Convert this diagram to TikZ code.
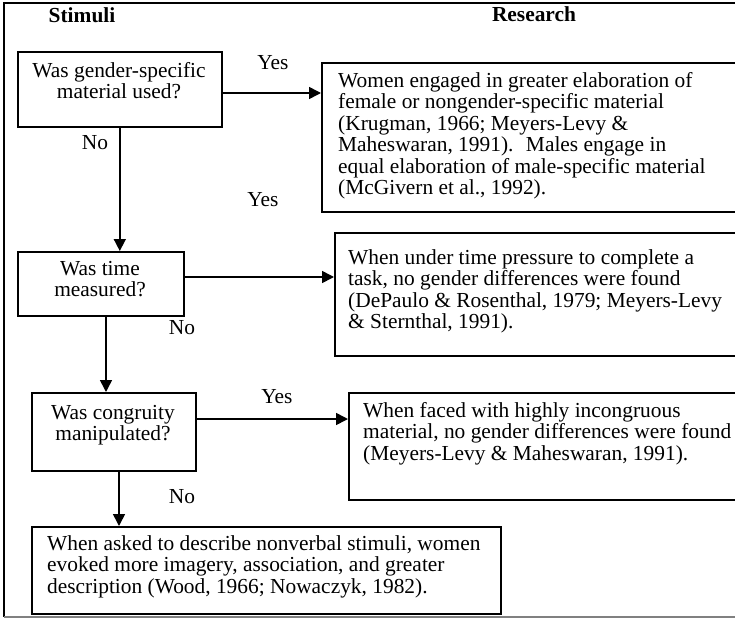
\documentclass[tikz,border=0pt]{standalone}
\usepackage{fontspec}
\setmainfont{Liberation Serif}
\usetikzlibrary{arrows.meta,calc}
\begin{document}
\begin{tikzpicture}[x=1pt,y=-1pt,
  box/.style={draw=black, line width=1.6pt, rectangle, inner sep=0pt, anchor=north west},
  txt/.style={font=\fontsize{21.4}{21.5}\selectfont, inner sep=0pt},
  hdr/.style={font=\fontsize{21.4}{21.5}\selectfont\bfseries, inner sep=0pt},
  lbl/.style={font=\fontsize{21.4}{21.5}\selectfont, inner sep=0pt},
  arr/.style={line width=1.6pt, -{Triangle[length=12pt,width=12pt]}},
  ln/.style={line width=1.6pt}]
\path[use as bounding box] (0,0) rectangle (735,618);
\clip (0,0) rectangle (735,618);
% frame
\coordinate (ftl) at (4,3);
\coordinate (ftr) at (740,3);
\coordinate (fbl) at (4,617);
\coordinate (fbr) at (740,617);
\draw[ln] (ftr) -- (ftl) -- (fbl);
\draw[line width=1.2pt, gray] (fbl) -- (fbr);
% headers
\node[hdr, anchor=base] (hs) at (82,23) {Stimuli};
\node[hdr, anchor=base] (hr) at (534,22) {Research};
% boxes
\node[box, minimum width=204pt, minimum height=75pt] (q1) at (17,51) {};
\node[box, minimum width=423pt, minimum height=149pt] (r1) at (321,62) {};
\node[box, minimum width=166pt, minimum height=64pt] (q2) at (17,251) {};
\node[box, minimum width=411pt, minimum height=123pt] (r2) at (334,232) {};
\node[box, minimum width=164pt, minimum height=78pt] (q3) at (31,392) {};
\node[box, minimum width=397pt, minimum height=107pt] (r3) at (348,392) {};
\node[box, minimum width=469pt, minimum height=87pt] (f) at (31,526) {};
% texts
\node[txt, align=center, anchor=north] (q1t) at (119,62) {Was gender-specific\\material used?};
\node[txt, align=left, anchor=north west] (r1t) at (338,72) {Women engaged in greater elaboration of\\female or nongender-specific material\\(Krugman, 1966; Meyers-Levy \&\\Maheswaran, 1991).~ Males engage in\\equal elaboration of male-specific material\\(McGivern et al., 1992).};
\node[txt, align=center, anchor=north] (q2t) at (100,261) {Was time\\measured?};
\node[txt, align=left, anchor=north west] (r2t) at (348,249) {When under time pressure to complete a\\task, no gender differences were found\\(DePaulo \& Rosenthal, 1979; Meyers-Levy\\\& Sternthal, 1991).};
\node[txt, align=center, anchor=north] (q3t) at (113,405) {Was congruity\\manipulated?};
\node[txt, align=left, anchor=north west] (r3t) at (363,402) {When faced with highly incongruous\\material, no gender differences were found\\(Meyers-Levy \& Maheswaran, 1991).};
\node[txt, align=left, anchor=north west] (ft) at (47,535) {When asked to describe nonverbal stimuli, women\\evoked more imagery, association, and greater\\description (Wood, 1966; Nowaczyk, 1982).};
% labels
\node[lbl] (y1) at (273,63) {Yes};
\node[lbl] (n1) at (95,143) {No};
\node[lbl] (y2) at (263,200) {Yes};
\node[lbl] (n2) at (182,328) {No};
\node[lbl] (y3) at (277,397) {Yes};
\node[lbl] (n3) at (182,497) {No};
% connectors
\coordinate (a1) at (0,93);
\draw[arr] (q1.east |- a1) -- (r1.west |- a1);
\draw[arr] (q1.south) -- (q1.south |- q2.north);
\coordinate (a2) at (0,277);
\draw[arr] (q2.east |- a2) -- (r2.west |- a2);
\coordinate (v2) at (106,0);
\draw[arr] (v2 |- q2.south) -- (v2 |- q3.north);
\coordinate (a3) at (0,419);
\draw[arr] (q3.east |- a3) -- (r3.west |- a3);
\coordinate (v3) at (119,0);
\draw[arr] (v3 |- q3.south) -- (v3 |- f.north);
\end{tikzpicture}
\end{document}
